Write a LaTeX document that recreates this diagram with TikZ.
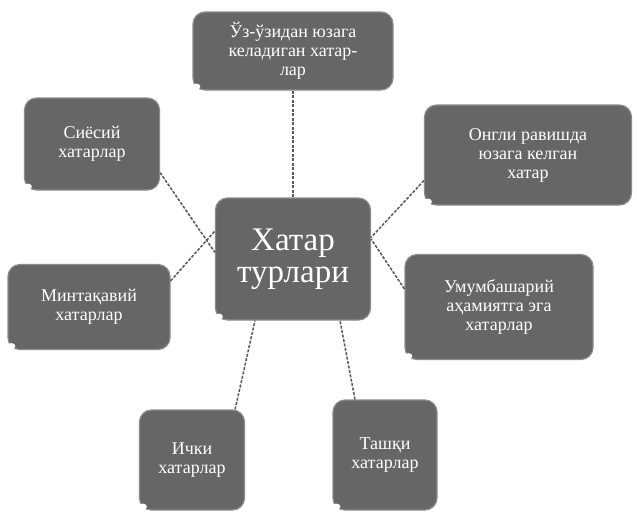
\documentclass[tikz,border=0pt]{standalone}
\usepackage{fontspec}
\setmainfont{Liberation Serif}
\begin{document}
\begin{tikzpicture}[x=1pt,y=-1pt,
  box/.style={draw=black!45, line width=1.2pt, fill=black!60, rounded corners=12pt,
    text=white, align=center, font=\fontsize{18}{19}\selectfont, inner sep=2pt},
  link/.style={draw=black!65, line width=1.5pt, dash pattern=on 3pt off 1.5pt}]
\useasboundingbox (0,0) rectangle (637,515);
\fill[white] (0,0) rectangle (637,515);
\node[box, minimum width=200, minimum height=78] (top) at (293,51) {Ўз-ўзидан юзага\\келадиган хатар-\\лар};
\node[box, minimum width=135, minimum height=92] (tl) at (92,144) {Сиёсий\\хатарлар};
\node[box, minimum width=207, minimum height=100] (tr) at (528,155) {Онгли равишда\\юзага келган\\хатар};
\node[box, minimum width=155, minimum height=122, font=\fontsize{33}{32}\selectfont] (c) at (293,259) {Хатар\\турлари};
\node[box, minimum width=162, minimum height=85] (ml) at (89,307) {Минтақавий\\хатарлар};
\node[box, minimum width=188, minimum height=105] (mr) at (499,307) {Умумбашарий\\аҳамиятга эга\\хатарлар};
\node[box, minimum width=105, minimum height=100] (bl) at (192,460) {Ички\\хатарлар};
\node[box, minimum width=104, minimum height=110] (br) at (385,455) {Ташқи\\хатарлар};
\foreach \n in {top,tl,tr,c,ml,mr,bl,br}{
  \fill[white] ([shift={(4,-4)}]\n.south west) ellipse (4 and 3);
}
\draw[link] (c.north) -- (top.south);
\draw[link] (tl.south east) ++(0,-18) -- ([yshift=-55]c.north west);
\draw[link] ([yshift=25]tr.south west) -- ([yshift=-40]c.north east);
\draw[link] ([yshift=-17]ml.north east) -- ([yshift=28]c.west);
\draw[link] ([yshift=-35]mr.north west) -- ([yshift=20]c.east);
\draw[link] ([xshift=-10]bl.north east) -- ([xshift=-38]c.south);
\draw[link] ([xshift=-30]br.north) -- ([xshift=47]c.south);
\end{tikzpicture}
\end{document}
